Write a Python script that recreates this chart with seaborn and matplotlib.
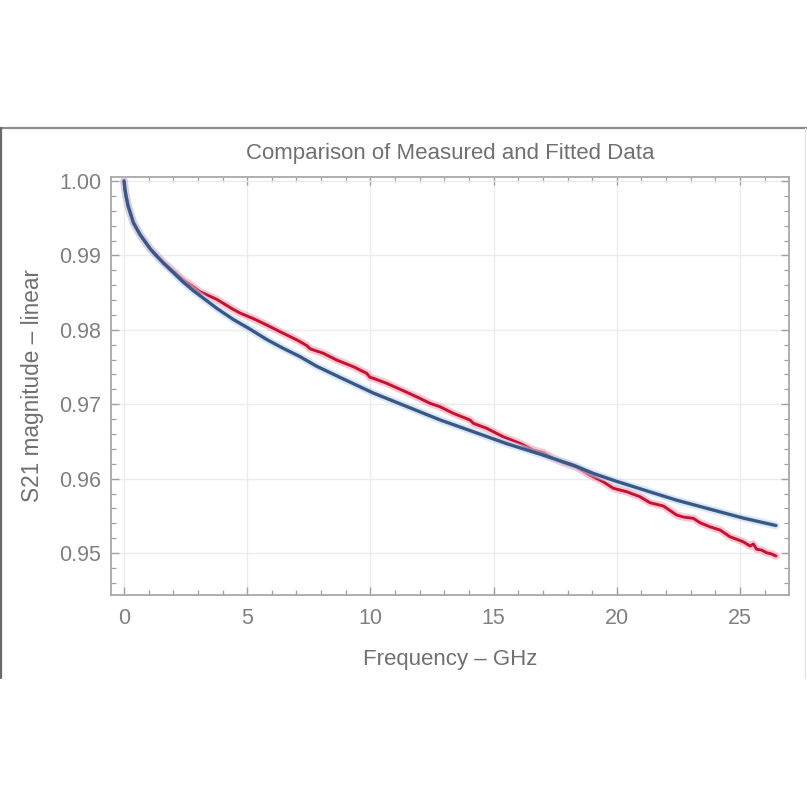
import matplotlib
matplotlib.use("Agg")
import matplotlib.pyplot as plt
import seaborn as sns
import pandas as pd
from matplotlib.lines import Line2D
from matplotlib.ticker import MultipleLocator, FixedLocator, FixedFormatter

# ---------------- data ----------------
measured_freq = [0.0, 0.04, 0.08, 0.17, 0.38, 0.65, 1.06, 1.3, 1.59, 2.0, 2.41, 2.61,
                 3.08, 3.76, 4.43, 4.71, 5.25, 5.79, 6.33, 7.01, 7.41, 7.55, 8.09,
                 8.63, 9.31, 9.85, 9.98, 10.12, 10.66, 11.34, 12.01, 12.42, 12.82,
                 13.36, 14.04, 14.18, 14.72, 15.39, 16.07, 16.61, 17.02, 17.42,
                 17.83, 18.37, 18.91, 19.45, 19.86, 20.40, 20.94, 21.35, 21.89,
                 22.43, 22.70, 23.11, 23.38, 23.78, 24.19, 24.39, 24.59, 24.87,
                 25.13, 25.41, 25.54, 25.68, 25.88, 26.08, 26.29, 26.46]
measured_s21 = [1.0, 0.9988, 0.9980, 0.9966, 0.9944, 0.9928, 0.9909, 0.9901, 0.9891,
                0.9879, 0.98669, 0.98625, 0.98512, 0.98410, 0.98275, 0.98225,
                0.98150, 0.98065, 0.97975, 0.97865, 0.97790, 0.97745, 0.97684,
                0.97594, 0.97504, 0.97415, 0.97362, 0.97348, 0.97281, 0.97181,
                0.97079, 0.97012, 0.96967, 0.96878, 0.96788, 0.96743, 0.96676,
                0.96563, 0.96474, 0.96384, 0.96348, 0.96273, 0.96214, 0.96152,
                0.96048, 0.95958, 0.95870, 0.95824, 0.95757, 0.95676, 0.95632,
                0.95511, 0.95484, 0.95466, 0.95407, 0.95353, 0.95309, 0.95265,
                0.95219, 0.95184, 0.95152, 0.95094, 0.95121, 0.95050, 0.95040,
                0.95004, 0.94987, 0.94960]

fitted_freq = [0.0, 0.04, 0.08, 0.17, 0.38, 0.65, 1.06, 1.3, 1.59, 2.0, 2.41, 2.8,
               3.08, 3.76, 4.43, 5.11, 5.79, 6.47, 7.14, 7.82, 8.77, 10.12, 11.47,
               12.82, 14.18, 15.53, 16.88, 18.24, 19.05, 19.93, 21.08, 22.43,
               23.78, 25.13, 26.46]
fitted_s21 = [1.0, 0.9988, 0.9980, 0.9966, 0.9944, 0.9928, 0.9909, 0.9900, 0.9890,
              0.9877, 0.9864, 0.9853, 0.9846, 0.9829, 0.9814, 0.9801, 0.9787,
              0.9775, 0.9764, 0.9751, 0.9736, 0.9715, 0.9697, 0.9679, 0.9663,
              0.9647, 0.9633, 0.9618, 0.9607, 0.9597, 0.9585, 0.9571, 0.9559,
              0.9547, 0.9537]

title_text = "Comparison of Measured and Fitted Data"
x_label = "Frequency \u2013 GHz"
y_label = "S21 magnitude \u2013 linear"
x_ticks = [0, 5, 10, 15, 20, 25]
x_tick_labels = ["0", "5", "10", "15", "20", "25"]
y_ticks = [0.95, 0.96, 0.97, 0.98, 0.99, 1.00]
y_tick_labels = ["0.95", "0.96", "0.97", "0.98", "0.99", "1.00"]

# ---------------- style ----------------
sns.set_theme(style="white")
plt.rcParams['font.family'] = ['Liberation Sans', 'DejaVu Sans']

fig = plt.figure(figsize=(8.07, 8.07), dpi=100)
fig.patch.set_facecolor("white")
ax = fig.add_axes([0.1375, 0.2627, 0.8402, 0.518])

df_meas = pd.DataFrame({"freq": measured_freq, "s21": measured_s21})
df_fit = pd.DataFrame({"freq": fitted_freq, "s21": fitted_s21})

# measured: pink glow + crimson line
sns.lineplot(data=df_meas, x="freq", y="s21", ax=ax, color="#f59ab0", lw=5.5,
             alpha=0.55, sort=False, estimator=None, zorder=3)
sns.lineplot(data=df_meas, x="freq", y="s21", ax=ax, color="#c41230", lw=2.1,
             sort=False, estimator=None, zorder=4)
# fitted: light-blue glow + dark blue line
sns.lineplot(data=df_fit, x="freq", y="s21", ax=ax, color="#b9d6f2", lw=5.5,
             alpha=0.55, sort=False, estimator=None, zorder=5)
sns.lineplot(data=df_fit, x="freq", y="s21", ax=ax, color="#3a5886", lw=2.4,
             sort=False, estimator=None, zorder=6)

ax.set_xlim(-0.53, 26.99)
ax.set_ylim(0.94436, 1.00054)

ax.xaxis.set_major_locator(FixedLocator(x_ticks))
ax.xaxis.set_major_formatter(FixedFormatter(x_tick_labels))
ax.xaxis.set_minor_locator(MultipleLocator(1))
ax.yaxis.set_major_locator(FixedLocator(y_ticks))
ax.yaxis.set_major_formatter(FixedFormatter(y_tick_labels))
ax.yaxis.set_minor_locator(MultipleLocator(0.002))

ax.grid(True, which="major", color="#ececec", lw=1.0, zorder=0)
ax.set_axisbelow(True)

tick_col = "#a0a0a0"
lab_col = "#808080"
ax.tick_params(which="both", direction="in", top=True, right=True,
               bottom=True, left=True, color=tick_col, labelcolor=lab_col)
ax.tick_params(which="major", length=6, width=1.0, labelsize=15.5)
ax.tick_params(which="minor", length=3.5, width=0.9)
ax.tick_params(axis="x", which="major", pad=9)
ax.tick_params(axis="y", which="major", pad=7)

for sp in ax.spines.values():
    sp.set_color("#a8a8a8")
    sp.set_linewidth(1.3)

ax.set_title(title_text, fontsize=16, color="#707070", pad=13)
ax.set_xlabel(x_label, fontsize=16, color="#707070", labelpad=15)
ax.set_ylabel(y_label, fontsize=16.3, color="#707070", labelpad=11)

# surrounding cell frame of the screenshot
fig.add_artist(Line2D([0.0, 1.0], [1 - 127.5 / 807, 1 - 127.5 / 807],
                      transform=fig.transFigure, color="#8c8c8c", lw=1.6))
fig.add_artist(Line2D([1.2 / 807, 1.2 / 807], [1 - 127.5 / 807, 1 - 678 / 807],
                      transform=fig.transFigure, color="#6a6a6a", lw=1.6))
fig.add_artist(Line2D([804.5 / 807, 804.5 / 807], [1 - 127.5 / 807, 1 - 678 / 807],
                      transform=fig.transFigure, color="#e4e4e4", lw=1.0))

fig.savefig("out.png", dpi=100, facecolor="white")
